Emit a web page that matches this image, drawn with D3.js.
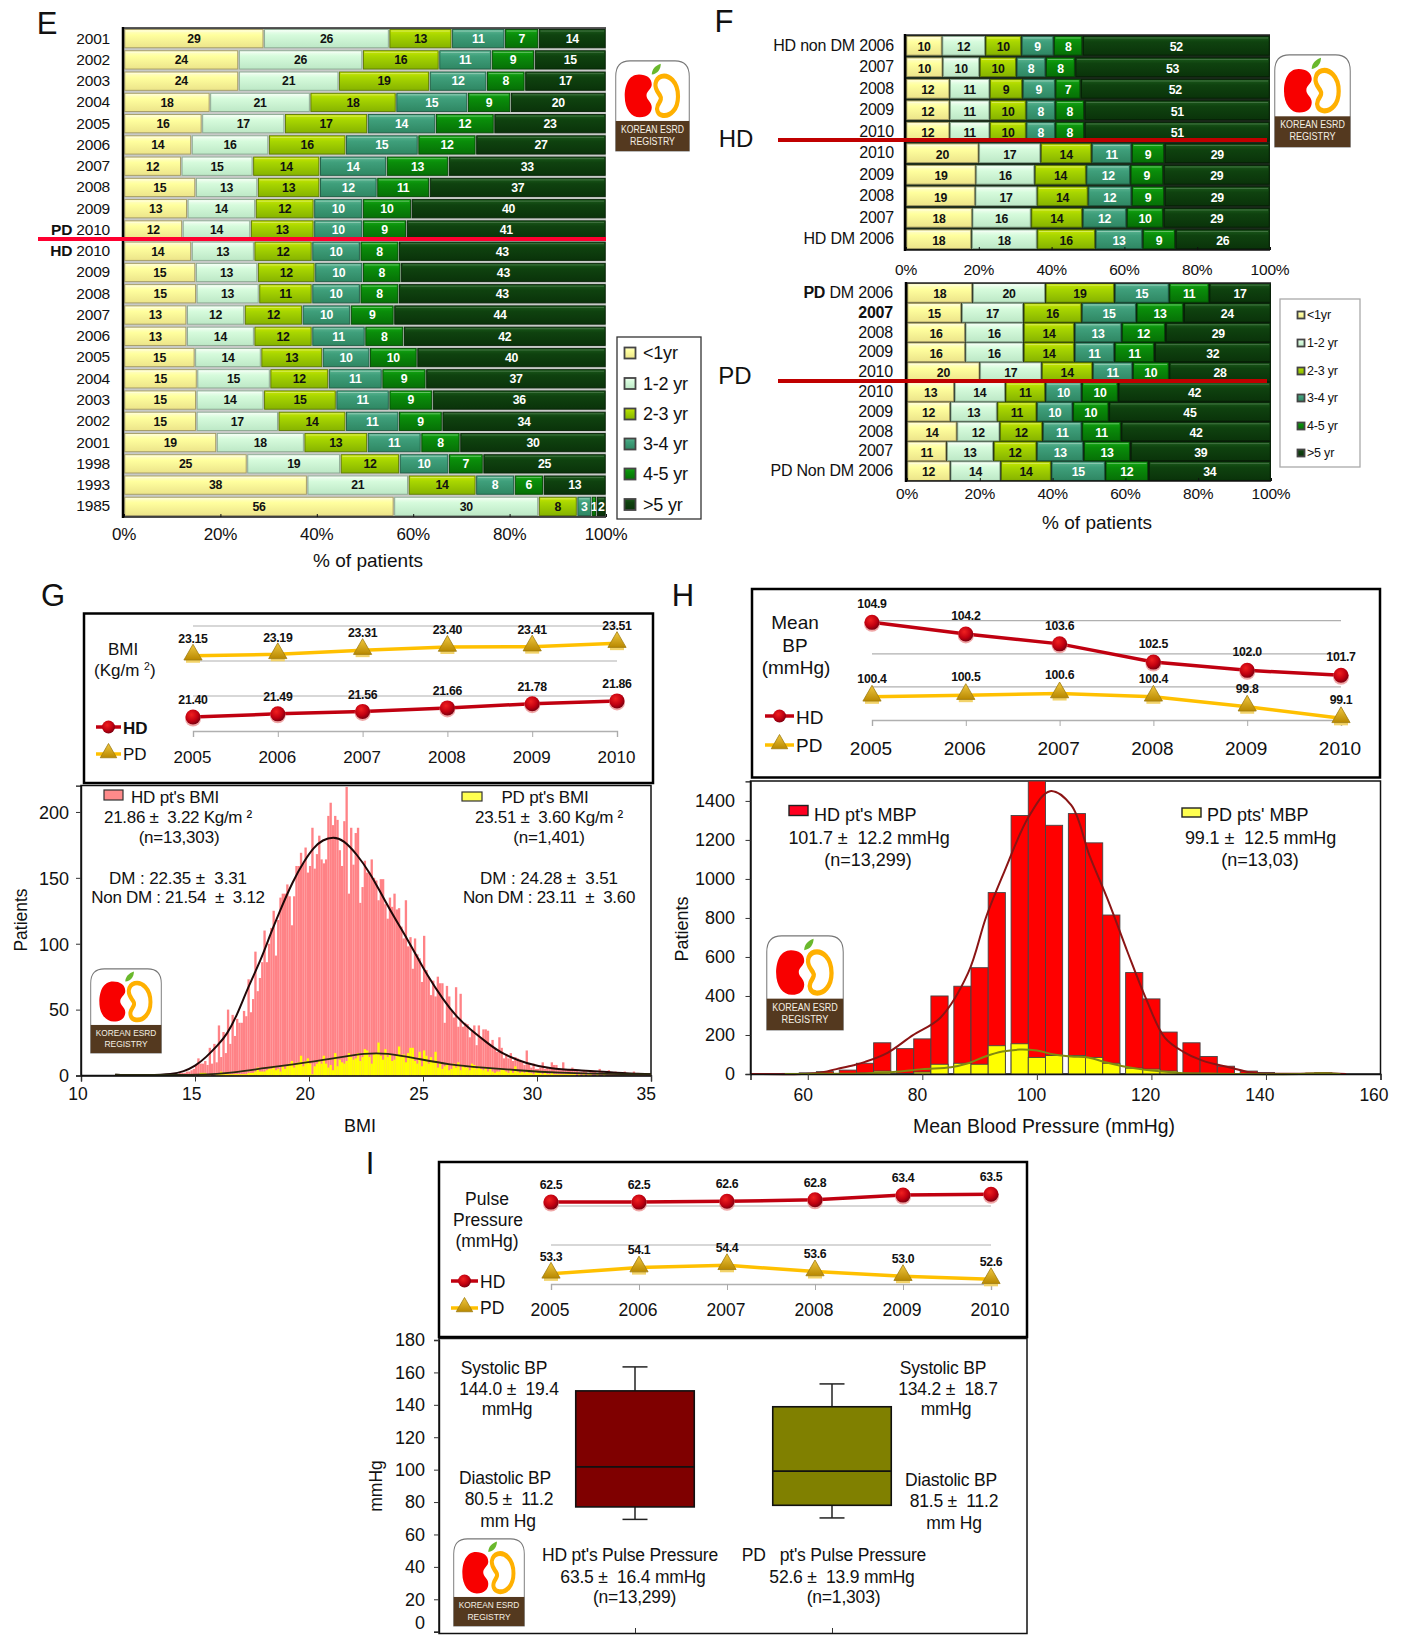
<!DOCTYPE html>
<html><head><meta charset="utf-8">
<script src="https://cdn.jsdelivr.net/npm/d3@7/dist/d3.min.js"></script>
<style>html,body{margin:0;padding:0;background:#fff}svg{display:block}text{font-family:"Liberation Sans",Arial,sans-serif;fill:#111;white-space:pre}</style>
</head><body><svg id="c" width="1402" height="1635" viewBox="0 0 1402 1635"></svg>
<script>
// ---------- DATA ----------
const durationKeys = ["<1yr","1-2 yr","2-3 yr","3-4 yr","4-5 yr",">5 yr"];
const percentTicks = [0,20,40,60,80,100];
const eLabels = ["2001","2002","2003","2004","2005","2006","2007","2008","2009","PD|2010","HD|2010","2009","2008","2007","2006","2005","2004","2003","2002","2001","1998","1993","1985"];
const eValues = [[29,26,13,11,7,14],[24,26,16,11,9,15],[24,21,19,12,8,17],[18,21,18,15,9,20],[16,17,17,14,12,23],[14,16,16,15,12,27],[12,15,14,14,13,33],[15,13,13,12,11,37],[13,14,12,10,10,40],[12,14,13,10,9,41],[14,13,12,10,8,43],[15,13,12,10,8,43],[15,13,11,10,8,43],[13,12,12,10,9,44],[13,14,12,11,8,42],[15,14,13,10,10,40],[15,15,12,11,9,37],[15,14,15,11,9,36],[15,17,14,11,9,34],[19,18,13,11,8,30],[25,19,12,10,7,25],[38,21,14,8,6,13],[56,30,8,3,1,2]];
const fHdLabels = ["HD non DM 2006","2007","2008","2009","2010","2010","2009","2008","2007","HD DM 2006"];
const fHdValues = [[10,12,10,9,8,52],[10,10,10,8,8,53],[12,11,9,9,7,52],[12,11,10,8,8,51],[12,11,10,8,8,51],[20,17,14,11,9,29],[19,16,14,12,9,29],[19,17,14,12,9,29],[18,16,14,12,10,29],[18,18,16,13,9,26]];
const fPdLabels = ["PD| DM 2006","2007|","2008","2009","2010","2010","2009","2008","2007","PD Non DM 2006"];
const fPdValues = [[18,20,19,15,11,17],[15,17,16,15,13,24],[16,16,14,13,12,29],[16,16,14,11,11,32],[20,17,14,11,10,28],[13,14,11,10,10,42],[12,13,11,10,10,45],[14,12,12,11,11,42],[11,13,12,13,13,39],[12,14,14,15,12,34]];
const years = [2005,2006,2007,2008,2009,2010];
const bmiHD = [21.40,21.49,21.56,21.66,21.78,21.86];
const bmiPD = [23.15,23.19,23.31,23.40,23.41,23.51];
const mbpHD = [104.9,104.2,103.6,102.5,102.0,101.7];
const mbpPD = [100.4,100.5,100.6,100.4,99.8,99.1];
const ppHD = [62.5,62.5,62.6,62.8,63.4,63.5];
const ppPD = [53.3,54.1,54.4,53.6,53.0,52.6];
// BMI histogram: 0.1 BMI bins
const bmiFirstBin = 14, bmiBinWidth = 0.1;
const bmiHistHD = [1,1,1,2,2,2,3,3,4,5, 8,13,9,9,11,8,21,9,24,10, 38,14,33,17,50,24,46,30,43,40, 40,49,45,73,48,58,94,64,74,86, 110,86,100,112,125,91,118,135,138,138, 145,136,114,136,159,159,169,161,173,154, 159,188,157,168,182,164,161,164,197,207, 190,197,194,171,159,193,219,138,188,160, 184,188,131,143,163,154,154,164,150,148, 133,149,149,130,119,135,128,138,126,127, 113,104,133,98,105,81,104,92,89,71, 106,80,75,61,72,60,75,70,70,40, 68,60,49,44,67,37,62,37,40,39, 29,34,38,23,38,29,35,35,34,24, 27,21,18,29,21,13,16,13,17,11, 14,13,12,10,8,19,9,6,9,5, 5,6,10,5,6,5,10,8,8,5, 4,10,5,5,5,6,5,4,3,3, 4,3,2,4,3,3,2,5,3,2, 3,4,2,2,3,2,2,1,3,2, 2,1,3,1,2,1,1,1,1,1];
const bmiHistPD = [0,0,0,0,0,0,0,0,0,0, 0,0,2,2,2,1,1,0,0,1, 1,3,1,1,1,1,1,1,1,1, 1,1,1,2,2,2,3,6,3,3, 3,4,5,5,7,4,5,3,7,5, 7,9,11,6,9,10,15,7,11,13, 9,1,7,9,11,9,15,9,6,8, 4,17,7,12,10,9,11,17,14,12, 13,17,11,14,20,19,14,9,16,17, 25,15,12,20,14,16,11,12,15,22, 14,16,10,17,21,21,11,9,18,7, 19,15,9,14,10,18,6,10,5,7, 9,4,5,9,6,10,4,8,6,6, 4,9,8,5,7,5,4,6,3,5, 3,2,3,3,5,4,3,2,5,2, 7,3,2,3,2,3,2,2,1,3, 2,2,1,2,1,1,2,1,1,1, 1,1,1,1,1,1,1,0,1,0, 1,0,1,1,0,0,1,0,0,1];
const bmiCurveHDx = [11.5,13,14,14.5,15,15.5,16,16.4,16.85,17.3,17.9,18.3,18.7,19.3,19.8,20.2,20.6,21.07,21.5,22.1,22.7,23.1,23.7,24.3,24.87,25.16,25.9,26.5,27.06,27.8,28.5,29.55,30.6,31.9,33.5,35];
const bmiCurveHDy = [0.5,0.3,1,3,7,14,23,31,46,66,88,107,124,148,163,173,179,181,179,168,153,140,121,104,86,77,57,44,35,25,16,9,5,4,2,1];
const bmiCurvePDx = [11.5,13,15.2,16.7,18.1,19.6,21.07,22.5,23.4,24.7,26.2,27.65,29.1,31,33,35];
const bmiCurvePDy = [0.6,0.3,0.5,2,6,9,13,17,17,13,8,6,4,2,1,1];
// Mean BP histogram
const mbpBins = [57,60,63,67,70,73,77,80,83,87,90,93,97,100,103,107,110,113,117,120,123,127,130,133,137,140,143,150];
const mbpHistHD = [3,6,12,20,55,160,130,180,400,450,545,930,1325,1510,1275,1335,1185,815,520,385,215,160,90,40,15,8,2,4];
const mbpHistPD = [2,0,0,3,5,15,3,10,50,55,50,145,155,85,95,95,85,55,30,25,15,5,2,0,0,0,0,6];
const mbpBinWidth = 3;
const mbpCurveHDx = [50,59,62,65,68,70,74,78.3,83.2,88,91.2,94.5,98.6,102.3,106,109.2,112.5,115.8,119,122.3,125.5,128.8,133.7,137.8,141,147,150,154];
const mbpCurveHDy = [0,0,5,25,45,62,110,198,290,518,810,1050,1320,1450,1378,1120,885,628,390,188,115,70,33,5,1,2,4,0];
const mbpCurvePDx = [56,62,70,75,80,85,88,91,94,97,100,103,106,109,112,115,118,121,125,130,135,146,150,153];
const mbpCurvePDy = [0,1,3,10,25,35,55,90,115,125,120,100,90,85,60,40,25,15,5,2,0,0,4,0];
// Pulse pressure box plots
const boxNames = ["HD","PD"];
const boxLow = [69.3,70.2];
const boxQ1 = [77,78];
const boxMedian = [101.7,99.1];
const boxQ3 = [148.6,138.8];
const boxHigh = [163.4,152.9];
const boxColors = ["#7f0000","#808000"];

// ---------- HELPERS ----------
const svg = d3.select("#c"), defs = svg.append("defs");
const segStyles = [
 {top:"#fffdd0",mid:"#ffff9e",bot:"#ece48a",edge:"#a39a62",txt:"#111"},
 {top:"#f4fff4",mid:"#d6fbdc",bot:"#bde8c6",edge:"#8aa890",txt:"#111"},
 {top:"#c9e600",mid:"#a8d600",bot:"#86b300",edge:"#5d7a00",txt:"#111"},
 {top:"#5cb692",mid:"#3f9f7b",bot:"#2f8763",edge:"#1f5c44",txt:"#fff"},
 {top:"#14a814",mid:"#0a8d0a",bot:"#067006",edge:"#034a03",txt:"#fff"},
 {top:"#1b5a1b",mid:"#0f420f",bot:"#0a330a",edge:"#062206",txt:"#fff"}];
segStyles.forEach((s,i)=>{
  const g=defs.append("linearGradient").attr("id","seg"+i).attr("x1",0).attr("x2",0).attr("y1",0).attr("y2",1);
  g.append("stop").attr("offset","0").attr("stop-color",s.top);
  g.append("stop").attr("offset","0.3").attr("stop-color",s.mid);
  g.append("stop").attr("offset","1").attr("stop-color",s.bot);
});
const rg=defs.append("radialGradient").attr("id","ball").attr("cx","40%").attr("cy","35%").attr("r","70%");
rg.append("stop").attr("offset","0").attr("stop-color","#f02020");
rg.append("stop").attr("offset","0.6").attr("stop-color","#c00010");
rg.append("stop").attr("offset","1").attr("stop-color","#700010");
const tg=defs.append("linearGradient").attr("id","tri").attr("x1",0).attr("x2",0).attr("y1",0).attr("y2",1);
tg.append("stop").attr("offset","0").attr("stop-color","#f0c840");
tg.append("stop").attr("offset","1").attr("stop-color","#b88800");

function T(x,y,s,opt={}){
  const t=svg.append("text").attr("x",x).attr("y",y).attr("dy","0.35em").text(s)
    .attr("font-size",opt.size||17).attr("text-anchor",opt.anchor||"middle");
  if(opt.bold) t.attr("font-weight","bold");
  if(opt.ls!=null) t.attr("letter-spacing",opt.ls);
  if(opt.rotate) t.attr("transform",`rotate(${opt.rotate},${x},${y})`);
  return t;
}
function stacked(cfg){
  const g=svg.append("g");
  const rows=cfg.values.map(v=>Object.fromEntries(durationKeys.map((k,i)=>[k,v[i]])));
  const series=d3.stack().keys(durationKeys).offset(d3.stackOffsetExpand)(rows);
  const x=d3.scaleLinear().domain([0,1]).range(cfg.xr);
  const y=d3.scaleBand().domain(d3.range(rows.length)).range(cfg.yr).paddingInner(cfg.pad).paddingOuter(cfg.pad/2);
  g.append("rect").attr("x",cfg.xr[0]).attr("y",cfg.yr[0]).attr("width",cfg.xr[1]-cfg.xr[0]).attr("height",cfg.yr[1]-cfg.yr[0]).attr("fill",cfg.bg);
  series.forEach((s,si)=>{
    const st=segStyles[si];
    const seg=g.append("g").selectAll("g").data(s).join("g");
    seg.append("rect").attr("x",d=>x(d[0])+0.8).attr("y",(d,i)=>y(i))
      .attr("width",d=>Math.max(0.5,x(d[1])-x(d[0])-1.6)).attr("height",y.bandwidth())
      .attr("fill",`url(#seg${si})`).attr("stroke",st.edge).attr("stroke-width",0.9);
    seg.append("line").attr("x1",d=>x(d[0])+2).attr("x2",d=>Math.max(x(d[0])+2,x(d[1])-2)).attr("y1",(d,i)=>y(i)+1.6).attr("y2",(d,i)=>y(i)+1.6)
      .attr("stroke","#fff").attr("stroke-opacity",si===5?0.18:0.35).attr("stroke-width",1);
    seg.append("text").attr("x",d=>(x(d[0])+x(d[1]))/2).attr("y",(d,i)=>y(i)+y.bandwidth()/2+cfg.labelDy).attr("dy","0.35em")
      .attr("text-anchor","middle").attr("font-size",cfg.labelSize).attr("font-weight","bold").attr("letter-spacing",-0.3)
      .style("fill",st.txt).text((d,i)=>cfg.values[i][si]);
  });
  g.append("line").attr("x1",cfg.xr[0]-1).attr("x2",cfg.xr[0]-1).attr("y1",cfg.yr[0]-1).attr("y2",cfg.yr[1]+1).attr("stroke","#000").attr("stroke-width",2.5);
  g.append("line").attr("x1",cfg.xr[0]).attr("x2",cfg.xr[1]).attr("y1",cfg.yr[1]).attr("y2",cfg.yr[1]).attr("stroke","#111").attr("stroke-width",1.5);
  g.append("line").attr("x1",cfg.xr[0]).attr("x2",cfg.xr[1]).attr("y1",cfg.yr[0]).attr("y2",cfg.yr[0]).attr("stroke","#222").attr("stroke-width",1.5);
  cfg.labels.forEach((l,i)=>{
    const yy=y(i)+y.bandwidth()/2-0.5;
    const t=svg.append("text").attr("x",cfg.labelX).attr("y",yy).attr("dy","0.35em").attr("text-anchor","end").attr("font-size",cfg.catSize).attr("letter-spacing",cfg.catLs);
    const parts=l.split("|");
    if(parts.length===2){
      t.append("tspan").attr("font-weight","bold").text(parts[0]);
      if(parts[1]) t.append("tspan").text((parts[1][0]===" "?"":" ")+parts[1]);
    } else t.text(l);
  });
  const ax=g.append("g").attr("transform",`translate(0,${cfg.yr[1]})`)
    .call(d3.axisBottom(d3.scaleLinear().domain([0,100]).range(cfg.xr)).tickValues(percentTicks).tickSize(-3).tickFormat(d=>d+"%").tickPadding(0));
  ax.select(".domain").remove();
  ax.selectAll(".tick line").attr("stroke","#111");
  ax.selectAll("text").remove();
  percentTicks.forEach(p=>{ T(cfg.xr[0]+(cfg.xr[1]-cfg.xr[0])*p/100+(cfg.tickDx||0),cfg.tickY,p+"%",{size:cfg.tickSize,ls:-0.2}); });
}
function legendDur(box,ys,sw,tx,size,r){
  svg.append("rect").attr("x",box[0]).attr("y",box[1]).attr("width",box[2]).attr("height",box[3]).attr("fill","#fff").attr("stroke",box[4]).attr("stroke-width",1.3);
  durationKeys.forEach((k,i)=>{
    svg.append("rect").attr("x",sw-r).attr("y",ys[i]-r).attr("width",2*r).attr("height",2*r).attr("fill",`url(#seg${i})`).attr("stroke","#444").attr("stroke-width",r<6?1.8:1.2);
    T(tx,ys[i],k,{size,anchor:"start",ls:-0.2});
  });
}
function logo(x,y,w,h){
  const g=svg.append("g").attr("transform",`translate(${x},${y}) scale(${w/100},${h/100})`);
  g.append("path").attr("d","M1,100 L1,18 Q1,1 20,1 L80,1 Q99,1 99,18 L99,100 Z").attr("fill","#fff").attr("stroke","#777").attr("stroke-width",1.3);
  g.append("rect").attr("x",1).attr("y",67).attr("width",98).attr("height",33).attr("fill","#54391f");
  g.append("path").attr("d","M32,16 C18,16 13,28 13,40 C13,54 22,63 33,63 C44,63 49,58 49,52 C49,46 42,44 42,39 C42,34 49,32 49,27 C49,20 42,16 32,16 Z").attr("fill","#f80000");
  g.append("path").attr("d","M62,18 C72,16 84,24 84,40 C84,54 74,62 64,61 C56,60 55,54 57,50 C60,45 63,43 60,39 C57,35 53,32 54,26 C55,21 58,19 62,18 Z").attr("fill","none").attr("stroke","#ffb000").attr("stroke-width",5.5);
  g.append("path").attr("d","M49,16 C49,10 54,6 61,4 C61,10 57,15 49,16 Z").attr("fill","#6ab82c");
  const f=w*0.137;
  svg.append("text").attr("x",x+w/2).attr("y",y+h*0.76).attr("dy","0.35em").attr("text-anchor","middle").attr("font-size",f).attr("textLength",w*0.84).attr("lengthAdjust","spacingAndGlyphs").style("fill","#f4f0e4").text("KOREAN ESRD");
  svg.append("text").attr("x",x+w/2).attr("y",y+h*0.89).attr("dy","0.35em").attr("text-anchor","middle").attr("font-size",f).attr("textLength",w*0.6).attr("lengthAdjust","spacingAndGlyphs").style("fill","#f4f0e4").text("REGISTRY");
}
function tri(g,x,y,s){
  g.append("path").attr("d",d3.symbol(d3.symbolTriangle,s*s*1.3)()).attr("transform",`translate(${x},${y})`).attr("fill","url(#tri)").attr("stroke","#a07c10").attr("stroke-width",0.8);
}
function linePanel(c){
  const g=svg.append("g");
  g.append("rect").attr("x",c.box[0]).attr("y",c.box[1]).attr("width",c.box[2]-c.box[0]).attr("height",c.box[3]-c.box[1]).attr("fill","#fff").attr("stroke","#000").attr("stroke-width",2.5);
  const x=d3.scalePoint().domain(years).range(c.xr), y=d3.scaleLinear().domain(c.dom).range(c.yr);
  c.grid.forEach(v=>g.append("line").attr("x1",c.xr[0]).attr("x2",c.xr[1]).attr("y1",y(v)).attr("y2",y(v)).attr("stroke","#b0b0b0").attr("stroke-width",1.2));
  const ax=g.append("g").attr("transform",`translate(0,${y(c.dom[0])})`).call(d3.axisBottom(x).tickSize(6).tickFormat(""));
  ax.select(".domain").attr("stroke","#b0b0b0").attr("stroke-width",1.4);
  ax.selectAll(".tick line").attr("stroke","#aaa");
  const ln=d3.line().x((d,i)=>x(years[i])).y(d=>y(d));
  g.append("path").attr("d",ln(c.hd)).attr("fill","none").attr("stroke","#c00010").attr("stroke-width",3.5);
  g.append("path").attr("d",ln(c.pd)).attr("fill","none").attr("stroke","#ffc000").attr("stroke-width",3.5);
  c.hd.forEach((v,i)=>{g.append("circle").attr("cx",x(years[i])).attr("cy",y(v)+1.5).attr("r",8).attr("fill","#e88080").attr("opacity",.7);
    g.append("circle").attr("cx",x(years[i])).attr("cy",y(v)).attr("r",7.5).attr("fill","url(#ball)");
    T(x(years[i]),y(v)-c.lab,c.fmt(v),{size:c.labSize,bold:true,ls:-0.3});});
  c.pd.forEach((v,i)=>{g.append("rect").attr("x",x(years[i])-7).attr("y",y(v)+3).attr("width",14).attr("height",4).attr("fill","#f2d36a");
    tri(g,x(years[i]),y(v)-1,10.5);
    T(x(years[i]),y(v)-c.lab,c.fmt(v),{size:c.labSize,bold:true,ls:-0.3});});
  years.forEach(v=>T(x(v)+(c.yrDx||0),c.yearY,String(v),{size:c.yearSize}));
  g.append("line").attr("x1",c.leg[0]).attr("x2",c.leg[1]).attr("y1",c.legY[0]).attr("y2",c.legY[0]).attr("stroke","#c00010").attr("stroke-width",3.5);
  g.append("circle").attr("cx",(c.leg[0]+c.leg[1])/2).attr("cy",c.legY[0]).attr("r",6.5).attr("fill","url(#ball)");
  T(c.leg[1]+2,c.legY[0]+1,"HD",{size:c.yearSize,anchor:"start",bold:c.legBold});
  g.append("line").attr("x1",c.leg[0]).attr("x2",c.leg[1]).attr("y1",c.legY[1]).attr("y2",c.legY[1]).attr("stroke","#ffc000").attr("stroke-width",3.5);
  tri(g,(c.leg[0]+c.leg[1])/2,c.legY[1]-1,9.5);
  T(c.leg[1]+2,c.legY[1],"PD",{size:c.yearSize,anchor:"start"});
}
function axisStyle(a){ a.select(".domain").attr("stroke","#111").attr("stroke-width",1.4); a.selectAll(".tick line").attr("stroke","#333"); }

// ---------- PANEL E ----------
T(47,23,"E",{size:31});
stacked({values:eValues,labels:eLabels,xr:[124,606],yr:[28,517],pad:0.14,bg:"#c8cac8",labelX:110,labelSize:12.3,labelDy:0,catSize:15.5,catLs:-0.2,tickY:534,tickSize:17});
legendDur([617,337,84,182,"#333"],[353,383.5,414,444,474,504.5],630,643,18,5.5);
T(368,560,"% of patients",{size:19});
svg.append("line").attr("x1",38).attr("x2",606).attr("y1",239).attr("y2",239).attr("stroke","#ff0030").attr("stroke-width",4);
logo(615,60,75,91);

// ---------- PANEL F ----------
T(724,21,"F",{size:31});
stacked({values:fHdValues,labels:fHdLabels,xr:[906,1270],yr:[35,250],pad:0.13,bg:"#1a2a1a",labelX:894,labelSize:12.3,labelDy:1,catSize:16,catLs:-0.2,tickY:270,tickSize:15.5,tickDx:0});
stacked({values:fPdValues,labels:fPdLabels,xr:[907,1271],yr:[283,481],pad:0.06,bg:"#101810",labelX:893,labelSize:12.3,labelDy:1,catSize:16,catLs:-0.2,tickY:494,tickSize:15.5,tickDx:0});
svg.append("line").attr("x1",778).attr("x2",1267).attr("y1",140).attr("y2",140).attr("stroke","#c00000").attr("stroke-width",4);
svg.append("line").attr("x1",778).attr("x2",1267).attr("y1",381).attr("y2",381).attr("stroke","#c00000").attr("stroke-width",4);
T(736,139,"HD",{size:24});
T(735,376,"PD",{size:24});
legendDur([1280,299,80,168,"#aaa"],[315,343,371,398,426,453],1301,1307,12.5,3.5);
T(1097,522,"% of patients",{size:19});
logo(1274,54,77,93);

// ---------- PANEL G ----------
T(53,595,"G",{size:31});
linePanel({box:[84,613.5,653,783],xr:[193,617],dom:[21,24],yr:[731,626],grid:[22,23,24],hd:bmiHD,pd:bmiPD,fmt:d=>d.toFixed(2),lab:17,labSize:12.3,yearY:757,yearSize:17,leg:[96,121],legY:[727,754],legBold:true,yrDx:-0.5});
T(123,649,"BMI",{size:17});
T(94,670,"(Kg/m",{size:17,anchor:"start"});
T(144,666,"2",{size:10.5,anchor:"start"});
T(150,670,")",{size:17,anchor:"start"});
(function(){
  const g=svg.append("g");
  const x=d3.scaleLinear().domain([10,35]).range([81,651]), y=d3.scaleLinear().domain([0,220]).range([1075.5,785.6]);
  const bins=bmiHistHD.map((d,i)=>bmiFirstBin+i*bmiBinWidth);
  g.append("rect").attr("x",81).attr("y",785.5).attr("width",570).attr("height",290).attr("fill","#fff").attr("stroke","#111").attr("stroke-width",1.5);
  g.append("g").selectAll("rect").data(bmiHistHD).join("rect").attr("x",(d,i)=>x(bins[i])).attr("width",x(bmiBinWidth)-x(0)+0.05).attr("y",d=>y(d)).attr("height",d=>y(0)-y(d)).attr("fill","#ff8286");
  g.append("g").selectAll("rect").data(bmiHistPD).join("rect").attr("x",(d,i)=>x(bins[i])).attr("width",x(bmiBinWidth)-x(0)+0.05).attr("y",d=>y(d)).attr("height",d=>y(0)-y(d)).attr("fill","#ffff00");
  const ln=d3.line().x(d=>x(d[0])).y(d=>y(d[1])).curve(d3.curveBasis);
  g.append("path").attr("d",ln(bmiCurveHDx.map((v,i)=>[v,bmiCurveHDy[i]]))).attr("fill","none").attr("stroke","#200808").attr("stroke-width",2);
  g.append("path").attr("d",ln(bmiCurvePDx.map((v,i)=>[v,bmiCurvePDy[i]]))).attr("fill","none").attr("stroke","#2a2a10").attr("stroke-width",1.8);
  const ax=g.append("g").attr("transform","translate(0,1075.5)").call(d3.axisBottom(x).tickValues([10,15,20,25,30,35]).tickSize(6).tickFormat(""));
  axisStyle(ax);
  const ay=g.append("g").attr("transform","translate(81,0)").call(d3.axisLeft(y).tickValues([0,50,100,150,200]).tickSize(5).tickFormat(""));
  axisStyle(ay);
  [10,15,20,25,30,35].forEach(v=>T(x(v)-3-(v-10)*0.07,1094,String(v),{size:17.5}));
  [0,50,100,150,200].forEach(v=>T(69,y(v)+0.5,String(v),{size:18,anchor:"end"}));
})();
T(21,920,"Patients",{size:17.5,rotate:-90});
T(360,1126,"BMI",{size:18});
svg.append("rect").attr("x",104).attr("y",790).attr("width",19).attr("height",10).attr("fill","#ff8a8a").attr("stroke","#333").attr("stroke-width",1.2);
T(175,797,"HD pt's BMI",{size:17,ls:-0.2});
T(178,817,"21.86 ±  3.22 Kg/m ²",{size:17,ls:-0.3});
T(179,837,"(n=13,303)",{size:17,ls:-0.2});
T(178,878,"DM : 22.35 ±  3.31",{size:17,ls:-0.1});
T(178,897,"Non DM : 21.54  ±  3.12",{size:17,ls:-0.3});
svg.append("rect").attr("x",462).attr("y",792).attr("width",20).attr("height",9).attr("fill","#ffff50").attr("stroke","#333").attr("stroke-width",1.2);
T(545,797,"PD pt's BMI",{size:17,ls:-0.2});
T(549,817,"23.51 ±  3.60 Kg/m ²",{size:17,ls:-0.3});
T(549,837,"(n=1,401)",{size:17,ls:-0.2});
T(549,878,"DM : 24.28 ±  3.51",{size:17,ls:-0.1});
T(549,897,"Non DM : 23.11  ±  3.60",{size:17,ls:-0.3});
logo(90,968,72,85);

// ---------- PANEL H ----------
T(683,595,"H",{size:31});
linePanel({box:[752,589,1380,777.5],xr:[872,1341],dom:[99,105],yr:[720,620.7],grid:[101,103,105],hd:mbpHD,pd:mbpPD,fmt:d=>d.toFixed(1),lab:18.5,labSize:12.3,yearY:748.5,yearSize:19,leg:[765,794],legY:[716,745],legBold:false,yrDx:-1});
T(795,622,"Mean",{size:19}); T(795,645,"BP",{size:19}); T(796,667.5,"(mmHg)",{size:19});
(function(){
  const g=svg.append("g");
  const x=d3.scaleLinear().domain([50,160]).range([750.5,1380.5]), y=d3.scaleLinear().domain([0,1500]).range([1074,781.4]);
  g.append("rect").attr("x",750.5).attr("y",781).attr("width",630).attr("height",293).attr("fill","#fff").attr("stroke","#111").attr("stroke-width",1.5);
  const draw=(vals,fill)=>g.append("g").selectAll("rect").data(vals).join("rect").attr("x",(d,i)=>x(mbpBins[i]-mbpBinWidth/2)).attr("width",x(mbpBinWidth)-x(0)).attr("y",d=>Math.max(781,y(d))).attr("height",d=>y(0)-Math.max(781,y(d))).attr("fill",fill).attr("stroke","#444").attr("stroke-width",0.9);
  draw(mbpHistHD,"#ff0000"); draw(mbpHistPD,"#ffff00");
  const ln=d3.line().x(d=>x(d[0])).y(d=>y(d[1])).curve(d3.curveCatmullRom.alpha(0.5));
  g.append("path").attr("d",ln(mbpCurveHDx.map((v,i)=>[v,mbpCurveHDy[i]]))).attr("fill","none").attr("stroke","#8b1414").attr("stroke-width",2);
  g.append("path").attr("d",ln(mbpCurvePDx.map((v,i)=>[v,mbpCurvePDy[i]]))).attr("fill","none").attr("stroke","#808a10").attr("stroke-width",2);
  const ax=g.append("g").attr("transform","translate(0,1074)").call(d3.axisBottom(x).tickValues([60,80,100,120,140,160]).tickSize(6).tickFormat(""));
  axisStyle(ax);
  const ay=g.append("g").attr("transform","translate(750.5,0)").call(d3.axisLeft(y).tickValues(d3.range(0,1401,200)).tickSize(5).tickFormat(""));
  axisStyle(ay);
  [60,80,100,120,140,160].forEach(v=>T(x(v)-4.5-(v-60)*0.02,1095,String(v),{size:17.5}));
  d3.range(0,1401,200).forEach(v=>T(735,y(v)-0.5,String(v),{size:18,anchor:"end"}));
})();
T(682,929,"Patients",{size:18,rotate:-90});
T(1044,1126,"Mean Blood Pressure (mmHg)",{size:19.4});
svg.append("rect").attr("x",789).attr("y",805.5).attr("width",19).attr("height",10).attr("fill","#ff0020").attr("stroke","#222").attr("stroke-width",1.4);
T(814,814.5,"HD pt's MBP",{size:18,anchor:"start"});
T(869,838,"101.7 ±  12.2 mmHg",{size:18,ls:-0.1});
T(868,860,"(n=13,299)",{size:18});
svg.append("rect").attr("x",1182).attr("y",808).attr("width",19).attr("height",9).attr("fill","#ffff50").attr("stroke","#222").attr("stroke-width",1.4);
T(1207,814.5,"PD pts' MBP",{size:18,anchor:"start"});
T(1260.5,838,"99.1 ±  12.5 mmHg",{size:18,ls:-0.1});
T(1260,860,"(n=13,03)",{size:18});
logo(766,935,78,95);

// ---------- PANEL I ----------
T(370,1163,"I",{size:31});
linePanel({box:[439,1162,1027,1337],xr:[551,991],dom:[52,62],yr:[1284,1206],grid:[57,62],hd:ppHD,pd:ppPD,fmt:d=>d.toFixed(1),lab:17.5,labSize:12.3,yearY:1310,yearSize:17.5,leg:[451,478],legY:[1281,1308],legBold:false,yrDx:-1});
T(487,1199,"Pulse",{size:17.5}); T(488,1220,"Pressure",{size:17.5}); T(487,1241,"(mmHg)",{size:17.5});
(function(){
  const g=svg.append("g");
  const y=d3.scaleLinear().domain([0,180]).range([1631.7,1340]);
  g.append("rect").attr("x",439).attr("y",1338.5).attr("width",588).attr("height",295).attr("fill","#fff").attr("stroke","#111").attr("stroke-width",1.5);
  const ay=g.append("g").attr("transform","translate(439,0)").call(d3.axisLeft(y).tickValues(d3.range(0,181,20)).tickSize(5).tickFormat(""));
  axisStyle(ay);
  d3.range(0,181,20).forEach(v=>T(425,v===0?1623:y(v),String(v),{size:18,anchor:"end"}));
  const xc=d3.scalePoint().domain(boxNames).range([635,832]);
  const ax=g.append("g").attr("transform","translate(0,1633)").call(d3.axisBottom(xc).tickSize(-5).tickFormat(""));
  ax.select(".domain").remove(); ax.selectAll(".tick line").attr("stroke","#333");
  const bw=118.5, cap=12.5;
  boxNames.forEach((n,i)=>{
    const c=xc(n), gg=g.append("g");
    gg.append("line").attr("x1",c).attr("x2",c).attr("y1",y(boxHigh[i])).attr("y2",y(boxLow[i])).attr("stroke","#222").attr("stroke-width",1.5);
    [boxHigh[i],boxLow[i]].forEach(v=>gg.append("line").attr("x1",c-cap).attr("x2",c+cap).attr("y1",y(v)).attr("y2",y(v)).attr("stroke","#222").attr("stroke-width",1.5));
    gg.append("rect").attr("x",c-bw/2).attr("y",y(boxQ3[i])).attr("width",bw).attr("height",y(boxQ1[i])-y(boxQ3[i])).attr("fill",boxColors[i]).attr("stroke","#111").attr("stroke-width",1.6);
    gg.append("line").attr("x1",c-bw/2).attr("x2",c+bw/2).attr("y1",y(boxMedian[i])).attr("y2",y(boxMedian[i])).attr("stroke","#111").attr("stroke-width",1.6);
  });
})();
T(376,1486,"mmHg",{size:17.5,rotate:-90});
const ls3={size:17.5,ls:-0.2};
T(504,1368,"Systolic BP",ls3); T(509,1389,"144.0 ±  19.4",ls3); T(507,1409,"mmHg",ls3);
T(505,1478,"Diastolic BP",ls3); T(509,1499,"80.5 ±  11.2",ls3); T(508,1521,"mm Hg",ls3);
T(943,1368,"Systolic BP",ls3); T(948,1389,"134.2 ±  18.7",ls3); T(946,1409,"mmHg",ls3);
T(951,1480,"Diastolic BP",ls3); T(954,1501,"81.5 ±  11.2",ls3); T(954,1523,"mm Hg",ls3);
T(630,1555,"HD pt's Pulse Pressure",ls3); T(633,1577,"63.5 ±  16.4 mmHg",ls3); T(634.5,1597,"(n=13,299)",ls3);
T(834,1555,"PD   pt's Pulse Pressure",ls3); T(842,1577,"52.6 ±  13.9 mmHg",ls3); T(843.5,1597,"(n=1,303)",ls3);
logo(453,1538,72,88);
</script></body></html>
